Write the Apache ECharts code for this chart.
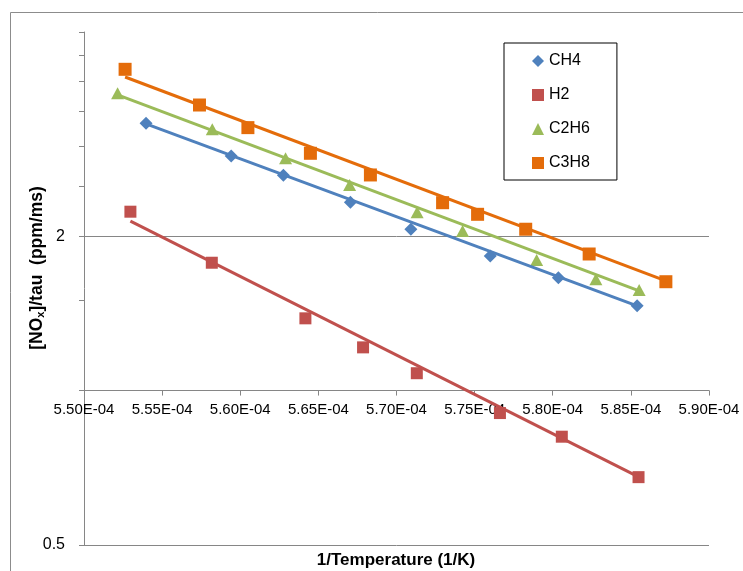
<!DOCTYPE html>
<html>
<head>
<meta charset="utf-8">
<script src="https://cdn.jsdelivr.net/npm/echarts@6/dist/echarts.min.js"></script>
<style>
html,body{margin:0;padding:0;background:#fff;}
#chart{width:743px;height:571px;}
</style>
</head>
<body>
<div id="chart"></div>
<script>
// ---- data (x in 1/K, y in ppm/ms) ----
const seriesNames = ['CH4', 'H2', 'C2H6', 'C3H8'];
const ch4X = [5.5397e-4, 5.5942e-4, 5.6276e-4, 5.6705e-4, 5.7092e-4, 5.7600e-4, 5.8036e-4, 5.8540e-4];
const ch4Y = [3.318, 2.866, 2.629, 2.328, 2.063, 1.829, 1.660, 1.464];
const h2X = [5.5297e-4, 5.5818e-4, 5.6417e-4, 5.6786e-4, 5.7130e-4, 5.7662e-4, 5.8058e-4, 5.8549e-4];
const h2Y = [2.232, 1.775, 1.383, 1.214, 1.081, 0.904, 0.813, 0.678];
const c2h6X = [5.5215e-4, 5.5821e-4, 5.6290e-4, 5.6700e-4, 5.7132e-4, 5.7423e-4, 5.7897e-4, 5.8276e-4, 5.8553e-4];
const c2h6Y = [3.798, 3.231, 2.837, 2.515, 2.226, 2.047, 1.797, 1.648, 1.571];
const c3h8X = [5.5263e-4, 5.5739e-4, 5.6049e-4, 5.6449e-4, 5.6833e-4, 5.7295e-4, 5.7519e-4, 5.7827e-4, 5.8233e-4, 5.8724e-4];
const c3h8Y = [4.229, 3.603, 3.255, 2.901, 2.632, 2.324, 2.206, 2.063, 1.846, 1.630];
// trendline end points
const ch4TrendX = [5.5397e-4, 5.8540e-4];
const ch4TrendY = [3.309, 1.462];
const h2TrendX = [5.5297e-4, 5.8549e-4];
const h2TrendY = [2.140, 0.679];
const c2h6TrendX = [5.5215e-4, 5.8553e-4];
const c2h6TrendY = [3.769, 1.564];
const c3h8TrendX = [5.5263e-4, 5.8724e-4];
const c3h8TrendY = [4.086, 1.636];
// axes
const xMin = 5.50e-4, xMax = 5.90e-4, xStep = 0.05e-4;
const xTickLabels = ['5.50E-04','5.55E-04','5.60E-04','5.65E-04','5.70E-04','5.75E-04','5.80E-04','5.85E-04','5.90E-04'];
const yMin = 0.5, yMax = 5;
const yMinorTicks = [0.5, 1, 1.5, 2, 2.5, 3, 3.5, 4, 4.5, 5];
const yLabelValues = [0.5, 2];

const colors = {CH4: '#4F81BD', H2: '#C0504D', C2H6: '#9BBB59', C3H8: '#E46C0A'};
const symbols = {CH4: 'diamond', H2: 'rect', C2H6: 'triangle', C3H8: 'rect'};
const symbolSizes = {CH4: 13, H2: 12, C2H6: [13, 12], C3H8: 13};
const points = {
  CH4: [ch4X, ch4Y], H2: [h2X, h2Y], C2H6: [c2h6X, c2h6Y], C3H8: [c3h8X, c3h8Y]
};
const trends = {
  CH4: [ch4TrendX, ch4TrendY], H2: [h2TrendX, h2TrendY], C2H6: [c2h6TrendX, c2h6TrendY], C3H8: [c3h8TrendX, c3h8TrendY]
};
const zip = (xs, ys) => xs.map((x, i) => [x, ys[i]]);

const series = [];
seriesNames.forEach(n => {
  series.push({
    name: n, type: 'scatter', symbol: symbols[n], symbolSize: symbolSizes[n],
    itemStyle: {color: colors[n], opacity: 1}, emphasis: {disabled: true},
    data: zip(points[n][0], points[n][1]), z: 3
  });
});
seriesNames.forEach(n => {
  series.push({
    name: n + ' trend', type: 'line', showSymbol: false, symbol: 'none', silent: true,
    lineStyle: {color: colors[n], width: 3}, data: zip(trends[n][0], trends[n][1]), z: 4
  });
});

const axisGray = '#868686';
const chart = echarts.init(document.getElementById('chart'), null, {renderer: 'canvas'});
const gridTop = 32, gridBottom = 26, gridH = 571 - gridTop - gridBottom;
const xAxisOffset = -(gridH * Math.log10(1 / yMin) / Math.log10(yMax / yMin));

chart.setOption({
  animation: false,
  backgroundColor: '#fff',
  grid: {left: 84, right: 34, top: gridTop, bottom: gridBottom, containLabel: false},
  graphic: [
    {type: 'rect', shape: {x: 10.5, y: 12.5, width: 800, height: 700}, style: {fill: 'none', stroke: '#8c8c8c', lineWidth: 1}, silent: true, z: -10},
    {type: 'text', x: 37, y: 268, rotation: Math.PI / 2,
      style: {text: '[NO{sub|x}]/tau  (ppm/ms)', font: 'bold 17.5px "Liberation Sans", Arial, sans-serif', fill: '#000',
        align: 'center', verticalAlign: 'middle',
        rich: {sub: {fontSize: 11, fontWeight: 'bold', fontFamily: '"Liberation Sans", Arial, sans-serif', verticalAlign: 'bottom', padding: [8, 0, 0, 0]}}}},
    {type: 'text', x: 396, y: 560,
      style: {text: '1/Temperature (1/K)', font: 'bold 17px "Liberation Sans", Arial, sans-serif', fill: '#000', align: 'center', verticalAlign: 'middle'}}
  ],
  legend: {
    orient: 'vertical', left: 504, top: 43,
    padding: [10, 27, 9, 28],
    itemGap: 18, itemWidth: 12, itemHeight: 12,
    borderColor: '#000', borderWidth: 1,
    itemStyle: {opacity: 1},
    textStyle: {fontSize: 16, lineHeight: 16, color: '#000', fontFamily: '"Liberation Sans", Arial, sans-serif'},
    data: seriesNames.map(n => ({name: n, icon: symbols[n]}))
  },
  xAxis: {
    type: 'value', min: xMin, max: xMax, interval: xStep,
    position: 'bottom', offset: xAxisOffset,
    axisLine: {show: true, lineStyle: {color: axisGray, width: 1}},
    axisTick: {show: true, length: 5, lineStyle: {color: axisGray}},
    splitLine: {show: false},
    axisLabel: {
      fontSize: 15, color: '#000', margin: 12, fontFamily: '"Liberation Sans", Arial, sans-serif',
      formatter: v => xTickLabels[Math.round((v - xMin) / xStep)] || ''
    }
  },
  yAxis: [
    {
      type: 'log', logBase: 10, min: yMin, max: yMax, position: 'left',
      axisLine: {show: true, lineStyle: {color: axisGray}},
      axisTick: {show: true, length: 5, inside: false, customValues: yMinorTicks, lineStyle: {color: axisGray}},
      axisLabel: {show: false},
      splitLine: {show: false}
    },
    {
      type: 'log', logBase: 10, min: yMin, max: yMax, position: 'left',
      axisLine: {show: false},
      axisTick: {show: false, customValues: yLabelValues},
      axisLabel: {show: true, customValues: yLabelValues, fontSize: 16, color: '#000', margin: 19,
        fontFamily: '"Liberation Sans", Arial, sans-serif', formatter: v => String(v)},
      splitLine: {show: true, lineStyle: {color: axisGray, width: 1}}
    }
  ],
  series: series
});
</script>
</body>
</html>
